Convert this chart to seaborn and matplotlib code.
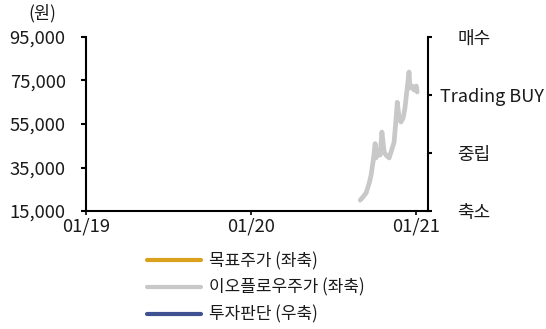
import matplotlib
matplotlib.use("Agg")
import matplotlib.pyplot as plt
import matplotlib.dates as mdates
from matplotlib.ticker import FuncFormatter
from matplotlib.lines import Line2D
import seaborn as sns
import pandas as pd

# 이오플로우 주가 (원)
dates = [
    "2020-08-30", "2020-09-05", "2020-09-12", "2020-09-19", "2020-09-23",
    "2020-09-28", "2020-10-02", "2020-10-04", "2020-10-09", "2020-10-13",
    "2020-10-17", "2020-10-22", "2020-10-26", "2020-11-02", "2020-11-09",
    "2020-11-13", "2020-11-17", "2020-11-20", "2020-11-24", "2020-11-28",
    "2020-12-03", "2020-12-07", "2020-12-12", "2020-12-16", "2020-12-18",
    "2020-12-23", "2020-12-27", "2021-01-01", "2021-01-03",
]
price = [
    20000, 21400, 23300, 27900, 31500,
    38500, 46000, 39400, 43000, 40700,
    51300, 42100, 40700, 39400, 44000,
    46700, 56800, 65000, 57800, 55900,
    57800, 62400, 71600, 78900, 71600,
    72500, 70600, 72500, 69700,
]

y_ticks = [15000, 35000, 55000, 75000, 95000]
opinion_levels = ["축소", "중립", "Trading BUY", "매수"]
legend_labels = ["목표주가 (좌축)", "이오플로우주가 (좌축)", "투자판단 (우축)"]
legend_colors = ["#d9a11c", "#c8c8c8", "#3f5190"]

sns.set_style("ticks")
plt.rcParams["font.family"] = ["Noto Sans CJK KR", "DejaVu Sans"]

W, H = 546, 329
fig = plt.figure(figsize=(W / 100, H / 100), dpi=100)
ax = fig.add_axes([86 / W, 1 - 211 / H, (428 - 86) / W, (211 - 37) / H])

df = pd.DataFrame({"date": pd.to_datetime(dates), "price": price})
sns.lineplot(data=df, x="date", y="price", ax=ax, color=legend_colors[1],
             lw=3.4, solid_joinstyle="round", solid_capstyle="round")

ax.set_xlim(pd.Timestamp("2019-01-01"), pd.Timestamp("2021-01-27"))
ax.set_ylim(y_ticks[0], y_ticks[-1])
ax.set_yticks(y_ticks)
ax.yaxis.set_major_formatter(FuncFormatter(lambda v, p: f"{v:,.0f}"))
ax.xaxis.set_major_locator(mdates.YearLocator())
ax.xaxis.set_major_formatter(mdates.DateFormatter("%m/%y"))
ax.set_xlabel("")
ax.set_ylabel("")

for side in ["top", "right"]:
    ax.spines[side].set_visible(False)
for side in ["left", "bottom"]:
    ax.spines[side].set_linewidth(1.5)
    ax.spines[side].set_color("black")
ax.tick_params(axis="y", length=3.6, width=1.5, pad=11, labelsize=13.3,
               colors="black")
ax.tick_params(axis="x", length=3.0, width=1.2, pad=2, labelsize=13.3,
               colors="black")
for lbl in ax.get_xticklabels() + ax.get_yticklabels():
    lbl.set_color("#1a1a1a")

ax2 = ax.twinx()
ax2.set_ylim(0, 3)
ax2.set_yticks(range(len(opinion_levels)))
ax2.set_yticklabels(opinion_levels)
for side in ["top", "left", "bottom"]:
    ax2.spines[side].set_visible(False)
ax2.spines["right"].set_linewidth(1.5)
ax2.spines["right"].set_color("black")
ax2.tick_params(axis="y", length=3.0, width=1.5, pad=6, labelsize=13,
                colors="black")
for tick, name in zip(ax2.yaxis.get_major_ticks(), opinion_levels):
    if name != "Trading BUY":
        tick.set_pad(18)
for lbl in ax2.get_yticklabels():
    lbl.set_color("#1a1a1a")

fig.text(42 / W, 1 - 13 / H, "(원)", ha="center", va="center",
         fontsize=12.5, color="#1a1a1a")

handles = [Line2D([], [], color=c, lw=3) for c in legend_colors]
fig.legend(handles, legend_labels, loc="upper left",
           bbox_to_anchor=(147 / W, 1 - 252 / H), frameon=False,
           borderpad=0, borderaxespad=0, handlelength=3.2,
           handletextpad=0.45, labelspacing=0.5, fontsize=12.2,
           labelcolor="#1a1a1a")

fig.savefig("out.png", dpi=100)
